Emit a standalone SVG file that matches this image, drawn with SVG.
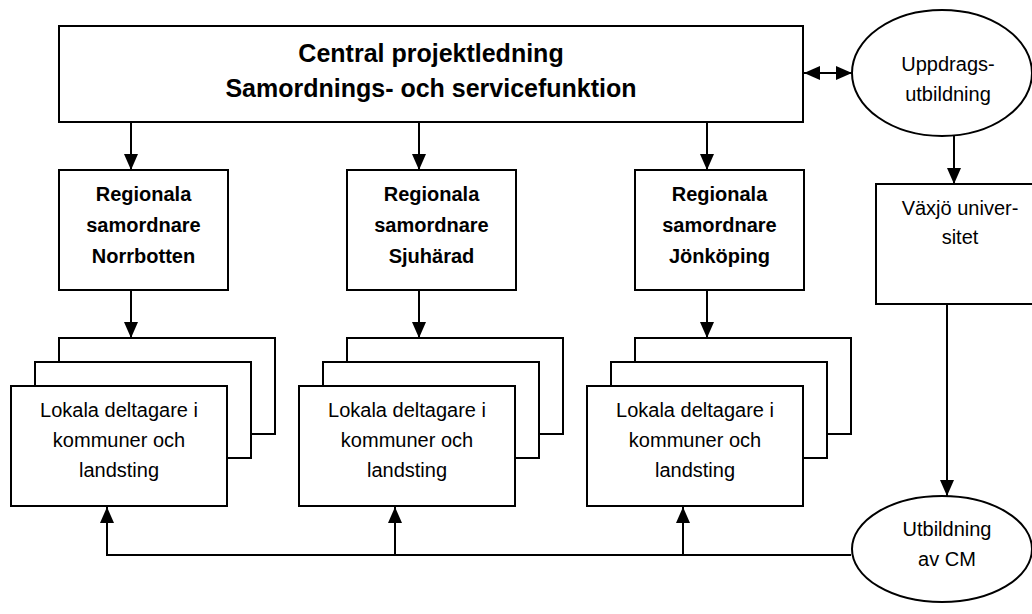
<svg xmlns="http://www.w3.org/2000/svg" width="1032" height="614" viewBox="0 0 1032 614">
<defs>
<style>
.b{fill:#fff;stroke:#000;stroke-width:2}
.c{fill:none;stroke:#000;stroke-width:2}
text{font-family:"Liberation Sans",Arial,sans-serif;font-size:20px;fill:#000;text-anchor:middle}
.bold{font-weight:bold}
.big{font-size:25px}
</style>
<marker id="ah" viewBox="0 0 16 14" refX="16" refY="7" markerWidth="16" markerHeight="14" markerUnits="userSpaceOnUse" orient="auto-start-reverse">
<path d="M0,0 L16,7 L0,14 Z" fill="#000"/>
</marker>
</defs>
<rect width="1032" height="614" fill="#fff"/>
<g id="connectors">
<line class="c" x1="131" y1="122" x2="131" y2="170" marker-end="url(#ah)"/>
<line class="c" x1="419" y1="122" x2="419" y2="170" marker-end="url(#ah)"/>
<line class="c" x1="707" y1="122" x2="707" y2="170" marker-end="url(#ah)"/>
<line class="c" x1="131" y1="290" x2="131" y2="338" marker-end="url(#ah)"/>
<line class="c" x1="419" y1="290" x2="419" y2="338" marker-end="url(#ah)"/>
<line class="c" x1="707" y1="290" x2="707" y2="338" marker-end="url(#ah)"/>
<line class="c" x1="804" y1="73" x2="852" y2="73" marker-start="url(#ah)" marker-end="url(#ah)"/>
<line class="c" x1="954" y1="136" x2="954" y2="184" marker-end="url(#ah)"/>
<line class="c" x1="947" y1="304" x2="947" y2="496" marker-end="url(#ah)"/>
<polyline class="c" points="851,555 107,555 107,507" marker-end="url(#ah)"/>
<line class="c" x1="395" y1="555" x2="395" y2="507" marker-end="url(#ah)"/>
<line class="c" x1="683" y1="555" x2="683" y2="507" marker-end="url(#ah)"/>
</g>
<g id="central">
<rect class="b" x="59" y="26" width="744" height="96"/>
<text class="bold big" x="431" y="62">Central projektledning</text>
<text class="bold big" x="431" y="97">Samordnings- och servicefunktion</text>
</g>
<g id="uppdrag">
<ellipse class="b" cx="942" cy="73" rx="90" ry="63"/>
<text x="948" y="71">Uppdrags-</text>
<text x="948" y="101">utbildning</text>
</g>
<g id="vaxjo">
<rect class="b" x="876" y="184" width="168" height="120"/>
<text x="960" y="215">Växjö univer-</text>
<text x="960" y="244">sitet</text>
</g>
<g id="utbildning">
<ellipse class="b" cx="942" cy="549" rx="90" ry="53"/>
<text x="947" y="536">Utbildning</text>
<text x="947" y="566">av CM</text>
</g>
<g id="reg-norrbotten">
<rect class="b" x="59" y="170" width="169" height="120"/>
<text class="bold" x="143.5" y="201">Regionala</text>
<text class="bold" x="143.5" y="232">samordnare</text>
<text class="bold" x="143.5" y="263">Norrbotten</text>
</g>
<g id="reg-sjuharad">
<rect class="b" x="347" y="170" width="169" height="120"/>
<text class="bold" x="431.5" y="201">Regionala</text>
<text class="bold" x="431.5" y="232">samordnare</text>
<text class="bold" x="431.5" y="263">Sjuhärad</text>
</g>
<g id="reg-jonkoping">
<rect class="b" x="635" y="170" width="169" height="120"/>
<text class="bold" x="719.5" y="201">Regionala</text>
<text class="bold" x="719.5" y="232">samordnare</text>
<text class="bold" x="719.5" y="263">Jönköping</text>
</g>
<g id="lokala-1">
<rect class="b" x="59" y="338" width="216" height="96"/>
<rect class="b" x="35" y="362" width="216" height="96"/>
<rect class="b" x="11" y="386" width="216" height="120"/>
<text x="119" y="417">Lokala deltagare i</text>
<text x="119" y="447">kommuner och</text>
<text x="119" y="477">landsting</text>
</g>
<g id="lokala-2">
<rect class="b" x="347" y="338" width="216" height="96"/>
<rect class="b" x="323" y="362" width="216" height="96"/>
<rect class="b" x="299" y="386" width="216" height="120"/>
<text x="407" y="417">Lokala deltagare i</text>
<text x="407" y="447">kommuner och</text>
<text x="407" y="477">landsting</text>
</g>
<g id="lokala-3">
<rect class="b" x="635" y="338" width="216" height="96"/>
<rect class="b" x="611" y="362" width="216" height="96"/>
<rect class="b" x="587" y="386" width="216" height="120"/>
<text x="695" y="417">Lokala deltagare i</text>
<text x="695" y="447">kommuner och</text>
<text x="695" y="477">landsting</text>
</g>
</svg>
